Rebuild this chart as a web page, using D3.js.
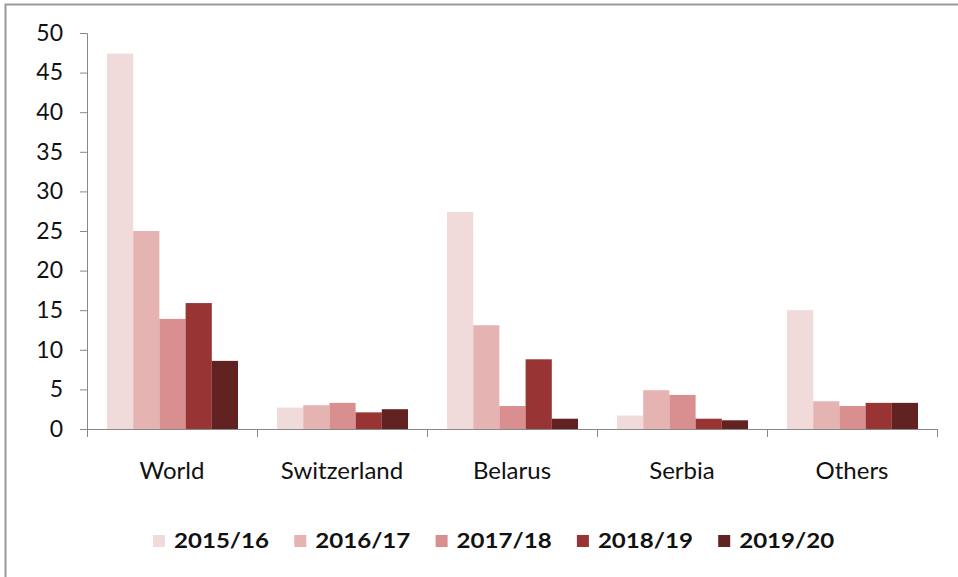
<!DOCTYPE html>
<html>
<head>
<meta charset="utf-8">
<script src="https://cdn.jsdelivr.net/npm/d3@7"></script>
<style>
  body { margin: 0; background: #fff; }
  svg text { font-family: Lato, "Open Sans", sans-serif; fill: #111; }
</style>
</head>
<body>
<div class="graphbox"></div>
<script>
var countries = ["World", "Switzerland", "Belarus", "Serbia", "Others"]
var seasons = ["2015/16", "2016/17", "2017/18", "2018/19", "2019/20"]
var v2015 = [47.4, 2.7, 27.4, 1.7, 15.0]
var v2016 = [25.0, 3.0, 13.1, 4.9, 3.5]
var v2017 = [13.9, 3.3, 2.9, 4.3, 2.9]
var v2018 = [15.9, 2.1, 8.8, 1.3, 3.3]
var v2019 = [8.6, 2.5, 1.3, 1.1, 3.3]
var yTicks = [0, 5, 10, 15, 20, 25, 30, 35, 40, 45, 50]
var pal = ["#f0dada", "#e6b3b3", "#d98f8f", "#983434", "#632222"]

var svgWidth = 958;
var svgHeight = 577;
var series = [v2015, v2016, v2017, v2018, v2019];

var mysvg = d3.select(".graphbox")
  .append("svg")
  .attr("width", svgWidth)
  .attr("height", svgHeight)
 ;

// frame (top + left edge only visible in the picture)
mysvg.append("path")
  .attr("d", "M5.5,577 V4.5 H958")
  .attr("fill", "none")
  .attr("stroke", "#999")
  .attr("stroke-width", 2)
;

var x0 = d3.scaleBand().domain(countries).range([87, 937]);
var x1 = d3.scaleBand().domain(seasons).range([20, 151]);
var y = d3.scaleLinear().domain([0, 50]).range([429, 33]);

var groups = mysvg.selectAll("g.grp")
  .data(countries)
  .enter()
  .append("g")
  .attr("class", "grp")
  .attr("transform", function(d) { return "translate(" + x0(d) + ",0)"; })
 ;

groups.selectAll("rect")
  .data(function(d, i) { return seasons.map(function(s, j) { return {s: s, v: series[j][i], j: j}; }); })
  .enter()
  .append("rect")
  .attr("x", function(d) { return x1(d.s); })
  .attr("y", function(d) { return y(d.v); })
  .attr("width", x1.bandwidth())
  .attr("height", function(d) { return y(0) - y(d.v); })
  .attr("fill", function(d) { return pal[d.j]; })
 ;

// y axis
var yAxis = mysvg.append("g")
  .attr("transform", "translate(87,0)")
  .call(d3.axisLeft(y).tickValues(yTicks).tickSize(7).tickPadding(17))
;
yAxis.select(".domain").attr("stroke", "#888");
yAxis.selectAll(".tick line").attr("stroke", "#888");
yAxis.selectAll("text").style("font-size", "23px").attr("fill", "#111");

// x axis
var xline = mysvg.append("line")
  .attr("x1", 87)
  .attr("x2", 937)
  .attr("y1", y(0) + 0.5)
  .attr("y2", y(0) + 0.5)
  .attr("stroke", "#888")
  .attr("stroke-width", 1)
;
var bounds = countries.map(function(d) { return x0(d); }).concat([937]);
mysvg.selectAll("line.xtick")
  .data(bounds)
  .enter()
  .append("line")
  .attr("class", "xtick")
  .attr("x1", function(d) { return Math.round(d) + 0.5; })
  .attr("x2", function(d) { return Math.round(d) + 0.5; })
  .attr("y1", y(0))
  .attr("y2", y(0) + 8)
  .attr("stroke", "#888")
;

mysvg.selectAll("text.xlab")
  .data(countries)
  .enter()
  .append("text")
  .attr("class", "xlab")
  .attr("x", function(d) { return x0(d) + x0.bandwidth() / 2; })
  .attr("y", 479)
  .attr("text-anchor", "middle")
  .style("font-size", "24px")
  .text(function(d) { return d; })
 ;

// legend
var legend = mysvg.selectAll("g.leg")
  .data(seasons)
  .enter()
  .append("g")
  .attr("class", "leg")
  .attr("transform", function(d, i) { return "translate(" + (153 + i * 141.3) + ",535)"; })
 ;
legend.append("rect")
  .attr("width", 12)
  .attr("height", 12)
  .attr("fill", function(d, i) { return pal[i]; })
;
legend.append("text")
  .attr("x", 21)
  .attr("y", 13)
  .attr("textLength", 95)
  .attr("lengthAdjust", "spacingAndGlyphs")
  .style("font-size", "21px")
  .style("font-weight", "bold")
  .text(function(d) { return d; })
;
</script>
</body>
</html>
